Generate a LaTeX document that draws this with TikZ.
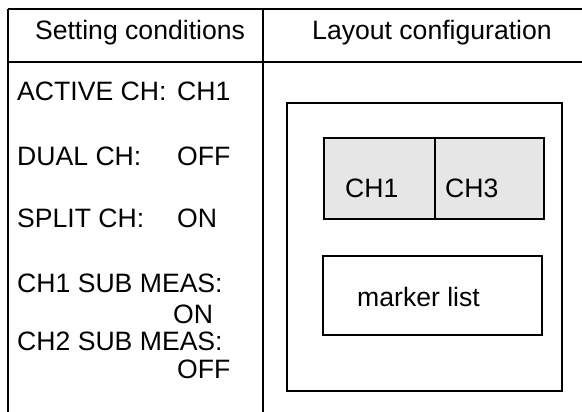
\documentclass[tikz,border=0pt]{standalone}
\usepackage{fontspec}
\setmainfont{Liberation Sans}
\definecolor{boxgray}{HTML}{E6E6E6}
\begin{document}
\begin{tikzpicture}[x=1pt,y=-1pt,
  txt/.style={font=\fontsize{26.6}{30}\selectfont, inner sep=0pt, anchor=base west},
  head/.style={font=\fontsize{26.6}{30}\selectfont, inner sep=0pt, anchor=base},
  rule/.style={line width=2.2pt},
  frame/.style={line width=2.4pt}]
\useasboundingbox (0,0) rectangle (582,412);
% table rules
\draw[rule] (8,9) -- (582,9);
\draw[rule] (8,62) -- (582,62);
\draw[rule] (8,9) -- (8,412);
\draw[rule] (263,9) -- (263,412);
% headers
\node[head] (h1) at (140,40) {Setting conditions};
\node[head] (h2) at (432,40) {Layout configuration};
% settings
\node[txt] (a1) at (17,101) {ACTIVE CH:};
\node[txt] (a2) at (177,101) {CH1};
\node[txt] (b1) at (17,165) {DUAL CH:};
\node[txt] (b2) at (177,165) {OFF};
\node[txt] (c1) at (17,227) {SPLIT CH:};
\node[txt] (c2) at (177,227) {ON};
\node[txt] (d1) at (17,292) {CH1 SUB MEAS:};
\node[txt] (d2) at (173,323) {ON};
\node[txt] (e1) at (17,350) {CH2 SUB MEAS:};
\node[txt] (e2) at (177,378) {OFF};
% layout
\draw[frame] (287,103) rectangle (562,391);
\draw[frame, fill=boxgray] (324,138) rectangle (544,219);
\draw[frame] (435,138) -- (435,219);
\draw[frame] (323,256) rectangle (542,335);
\node[txt] (g1) at (345,197) {CH1};
\node[txt] (g2) at (445,197) {CH3};
\node[txt] (m) at (357,306) {marker list};
\end{tikzpicture}
\end{document}
